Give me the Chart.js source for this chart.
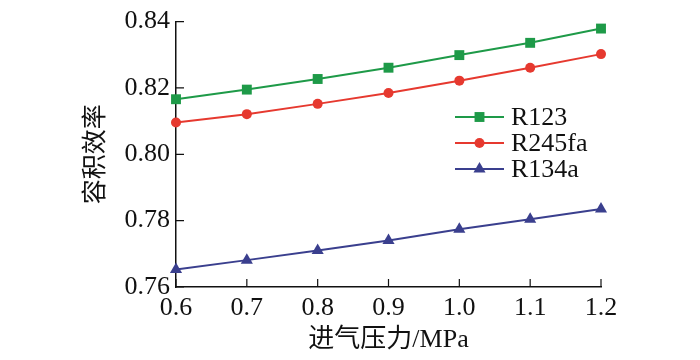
<!DOCTYPE html>
<html>
<head>
<meta charset="utf-8">
<script src="https://cdn.jsdelivr.net/npm/chart.js@4.4.0/dist/chart.umd.min.js"></script>
<style>
	html, body { margin: 0; padding: 0; background: #fff; }
	canvas { display: block; }
</style>
</head>
<body>
<canvas id="c" width="700" height="360"></canvas>
<script>
const pressure = [0.6, 0.7, 0.8, 0.9, 1.0, 1.1, 1.2];
const r123 = [0.8166, 0.8195, 0.8227, 0.8261, 0.8299, 0.8336, 0.8379];
const r245fa = [0.8096, 0.8121, 0.8152, 0.8185, 0.8222, 0.8261, 0.8302];
const r134a = [0.7653, 0.7681, 0.7710, 0.7740, 0.7774, 0.7804, 0.7835];
const seriesNames = ['R123', 'R245fa', 'R134a'];

const serif = "Liberation Serif, Times New Roman, Times, serif";
const cjk = "Liberation Serif, Noto Sans CJK SC, sans-serif";
const ink = '#111';

function series(label, values, color, style, radius) {
	return {
		label, data: values.map((v, i) => ({ x: pressure[i], y: v })),
		borderColor: color, backgroundColor: color, borderWidth: 2, clip: false,
		pointStyle: style, pointRadius: radius, pointHoverRadius: radius, pointBorderWidth: 0
	};
}

// ticks point inward, like the original figure
const inwardTicks = {
	id: 'inwardTicks',
	afterDraw(chart) {
		const { ctx, chartArea: a, scales: { x, y } } = chart;
		ctx.save();
		ctx.strokeStyle = ink;
		ctx.lineWidth = 1.2;
		ctx.beginPath();
		x.ticks.forEach(t => { const px = x.getPixelForValue(t.value); ctx.moveTo(px, a.bottom); ctx.lineTo(px, a.bottom - 8); });
		y.ticks.forEach(t => { const py = y.getPixelForValue(t.value); ctx.moveTo(a.left, py); ctx.lineTo(a.left + 8, py); });
		ctx.stroke();
		ctx.restore();
	}
};

const insideLegend = {
	id: 'insideLegend',
	afterDatasetsDraw(chart) {
		const ctx = chart.ctx;
		const x0 = 455, x1 = 504, top = 117, gap = 26;
		ctx.save();
		chart.data.datasets.forEach((ds, i) => {
			const yy = top + i * gap;
			ctx.strokeStyle = ds.borderColor;
			ctx.lineWidth = ds.borderWidth;
			ctx.beginPath(); ctx.moveTo(x0, yy); ctx.lineTo(x1, yy); ctx.stroke();
			ctx.fillStyle = ds.backgroundColor;
			Chart.helpers.drawPoint(ctx, { pointStyle: ds.pointStyle, radius: ds.pointRadius, borderWidth: 0 }, (x0 + x1) / 2, yy);
			ctx.fillStyle = ink;
			ctx.font = '26px ' + serif;
			ctx.textBaseline = 'middle';
			ctx.fillText(ds.label, x1 + 7, yy + 1);
		});
		ctx.restore();
	}
};

new Chart(document.getElementById('c'), {
	type: 'line',
	data: {
		datasets: [
			series(seriesNames[0], r123, '#1e9a48', 'rect', 7),
			series(seriesNames[1], r245fa, '#e6392f', 'circle', 5),
			series(seriesNames[2], r134a, '#3a3f8e', 'triangle', 7)
		]
	},
	options: {
		responsive: false,
		animation: false,
		layout: { padding: { top: 19, right: 99, left: 0, bottom: 0 } },
		plugins: { legend: { display: false }, tooltip: { enabled: false } },
		scales: {
			x: {
				type: 'linear', min: 0.6, max: 1.2,
				afterFit: s => { s.height = 73; },
				grid: { display: false, drawTicks: false },
				border: { display: true, color: ink, width: 1.5 },
				ticks: { stepSize: 0.1, color: ink, padding: 6, font: { family: serif, size: 26 }, callback: v => v.toFixed(1) },
				title: { display: true, text: '进气压力/MPa', color: ink, padding: { bottom: 4 }, font: { family: cjk, size: 26 } }
			},
			y: {
				min: 0.76, max: 0.84,
				afterFit: s => { s.width = 176; },
				grid: { display: false, drawTicks: false },
				border: { display: true, color: ink, width: 1.5 },
				ticks: { stepSize: 0.02, color: ink, padding: 6, font: { family: serif, size: 26 }, callback: v => v.toFixed(2) },
				title: { display: true, text: '容积效率', color: ink, padding: { top: 81 }, font: { family: cjk, size: 25 } }
			}
		}
	},
	plugins: [inwardTicks, insideLegend]
});
</script>
</body>
</html>
